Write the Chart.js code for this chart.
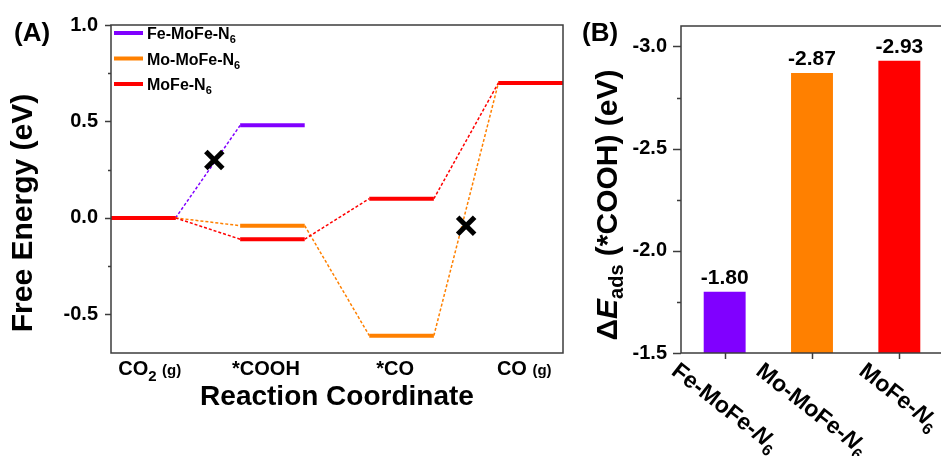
<!DOCTYPE html>
<html>
<head>
<meta charset="utf-8">
<script src="https://cdn.jsdelivr.net/npm/chart.js@4.4.1/dist/chart.umd.min.js"></script>
<style>
  html, body { margin: 0; padding: 0; width: 941px; height: 456px; overflow: hidden; background: #fff; }
  canvas { position: absolute; top: 0; }
  #energy { left: 0; }
  #adsorption { left: 560px; }
</style>
</head>
<body>
<canvas id="energy" width="580" height="456"></canvas>
<canvas id="adsorption" width="390" height="456"></canvas>
<script>
// (A) free-energy levels along CO2 -> *COOH -> *CO -> CO
const stages = ['CO2 (g)', '*COOH', '*CO', 'CO (g)'];
const stageLabelAt = [0.6, 2.4, 4.4, 6.4];
const feMoFeN6 = [0.00, 0.48];
const moMoFeN6 = [0.00, -0.04, -0.61, 0.70];
const moFeN6 = [0.00, -0.11, 0.10, 0.70];
const blockedSteps = [{x: 1.6, y: 0.30}, {x: 5.5, y: -0.04}];
const energyTicks = [-0.5, -0.25, 0, 0.25, 0.5, 0.75, 1.0];

// (B) *COOH adsorption energies
const catalysts = ['Fe-MoFe-N6', 'Mo-MoFe-N6', 'MoFe-N6'];
const adsorptionEnergy = [-1.80, -2.87, -2.93];
const adsorptionTicks = [-3.0, -2.75, -2.5, -2.25, -2.0, -1.75, -1.5];

const PURPLE = '#8000ff', ORANGE = '#ff8000', RED = '#ff0000';
const FAMILY = "'Liberation Sans', Arial, sans-serif";
const FRAME = '#3c3c3c';

// every level takes one x unit, the connector to the next level one more
function levelPoints(levels) {
  const pts = [];
  levels.forEach((v, i) => { pts.push({x: 2 * i, y: v}, {x: 2 * i + 1, y: v}); });
  return pts;
}

function isMajor(v) { return Math.abs(v * 2 - Math.round(v * 2)) < 1e-9; }

// "MoFe-N6" / "CO2 (g)" -> text runs with subscripts and a small "(g)"
function toRuns(label, size, sub, italicN) {
  const re = italicN ? /(N(?=\d)|\d+|\(g\))/ : /(\d+|\(g\))/;
  return label.split(re).filter(Boolean).map(part => {
    if (/^\d+$/.test(part)) return {text: part, size: sub, dy: Math.round(sub * 0.4)};
    if (part === '(g)') return {text: part, size: sub, dy: 0};
    if (italicN && part === 'N') return {text: part, size, dy: 0, italic: true};
    return {text: part, size, dy: 0};
  });
}

function runFont(r) { return (r.italic ? 'italic ' : '') + 'bold ' + r.size + 'px ' + FAMILY; }

function runsWidth(ctx, runs) {
  return runs.reduce((w, r) => { ctx.font = runFont(r); return w + ctx.measureText(r.text).width; }, 0);
}

function drawRuns(ctx, runs, x, y, align) {
  let cx = align === 'center' ? x - runsWidth(ctx, runs) / 2 : x;
  ctx.textAlign = 'left';
  ctx.textBaseline = 'alphabetic';
  runs.forEach(r => {
    ctx.font = runFont(r);
    ctx.fillText(r.text, cx, y + r.dy);
    cx += ctx.measureText(r.text).width;
  });
}

function yTickMarks(ctx, scale, major, minor) {
  ctx.beginPath();
  scale.ticks.forEach(t => {
    const y = Math.round(scale.getPixelForValue(t.value)) + 0.5;
    ctx.moveTo(scale.right, y);
    ctx.lineTo(scale.right - (isMajor(t.value) ? major : minor), y);
  });
  ctx.stroke();
}

function levelDataset(label, levels, color, order) {
  return {
    type: 'line', label, order, data: levelPoints(levels),
    borderColor: color, backgroundColor: color, borderWidth: 4, borderDash: [], pointRadius: 0,
    segment: {
      borderWidth: c => (c.p0DataIndex % 2 ? 1.5 : 4),
      borderDash: c => (c.p0DataIndex % 2 ? [3, 2] : [])
    }
  };
}

const energyDecor = {
  id: 'energyDecor',
  afterDraw(chart) {
    const ctx = chart.ctx;
    const a = chart.chartArea;
    const xs = chart.scales.x, ys = chart.scales.y;
    ctx.save();
    ctx.strokeStyle = FRAME;
    ctx.lineWidth = 1.5;
    ctx.strokeRect(a.left, a.top, a.right - a.left, a.bottom - a.top);
    yTickMarks(ctx, ys, 6, 3);

    ctx.fillStyle = '#000';
    stages.forEach((s, i) => {
      drawRuns(ctx, toRuns(s, 20, 15, false), xs.getPixelForValue(stageLabelAt[i]), 375, 'center');
    });
    drawRuns(ctx, [{text: 'Reaction Coordinate', size: 28, dy: 0}], (a.left + a.right) / 2, 405, 'center');

    ctx.save();
    ctx.translate(32, 213);
    ctx.rotate(-Math.PI / 2);
    drawRuns(ctx, [{text: 'Free Energy (eV)', size: 30, dy: 0}], 0, 0, 'center');
    ctx.restore();

    // legend in the top-left corner of the plot
    chart.data.datasets.slice(0, 3).forEach((ds, i) => {
      const y = 33 + i * 25.5;
      ctx.strokeStyle = ds.borderColor;
      ctx.lineWidth = 4;
      ctx.beginPath();
      ctx.moveTo(a.left + 3, y);
      ctx.lineTo(a.left + 32, y);
      ctx.stroke();
      ctx.fillStyle = '#000';
      drawRuns(ctx, toRuns(ds.label, 16, 11, false), a.left + 36, y + 6, 'left');
    });

    drawRuns(ctx, [{text: '(A)', size: 26, dy: 0}], 14, 41, 'left');
    ctx.restore();
  }
};

new Chart(document.getElementById('energy'), {
  data: {
    datasets: [
      levelDataset('Fe-MoFe-N6', feMoFeN6, PURPLE, 2),
      levelDataset('Mo-MoFe-N6', moMoFeN6, ORANGE, 1),
      levelDataset('MoFe-N6', moFeN6, RED, 0),
      {
        type: 'scatter', label: 'blocked', order: -1, data: blockedSteps,
        pointStyle: 'crossRot', pointRadius: 12, borderWidth: 5, borderColor: '#000'
      }
    ]
  },
  options: {
    responsive: false,
    animation: false,
    layout: {padding: {top: 21, right: 9, bottom: 103, left: 0}},
    plugins: {legend: {display: false}, tooltip: {enabled: false}},
    scales: {
      x: {type: 'linear', min: 0, max: 7, display: false},
      y: {
        min: -0.7, max: 1.0,
        afterBuildTicks: s => { s.ticks = energyTicks.map(value => ({value})); },
        afterFit: s => { s.width = 111; },
        grid: {display: false, drawTicks: false},
        border: {display: false},
        ticks: {
          padding: 13, color: '#000',
          font: {family: FAMILY, size: 20, weight: 'bold'},
          callback: v => (isMajor(v) ? v.toFixed(1) : '')
        }
      }
    }
  },
  plugins: [energyDecor]
});

const adsorptionDecor = {
  id: 'adsorptionDecor',
  afterDraw(chart) {
    const ctx = chart.ctx;
    const a = chart.chartArea;
    const xs = chart.scales.x, ys = chart.scales.y;
    ctx.save();
    ctx.strokeStyle = FRAME;
    ctx.lineWidth = 1.5;
    ctx.strokeRect(a.left, a.top, a.right - a.left, a.bottom - a.top);
    yTickMarks(ctx, ys, 8, 4);

    // category ticks and slanted names
    const angle = 38 * Math.PI / 180;
    ctx.fillStyle = '#000';
    catalysts.forEach((c, i) => {
      const x = Math.round(xs.getPixelForValue(i)) + 0.5;
      ctx.beginPath();
      ctx.moveTo(x, a.bottom);
      ctx.lineTo(x, a.bottom + 6);
      ctx.stroke();
      const runs = toRuns(c, 23, 16, true);
      const w = runsWidth(ctx, runs);
      const cap = 16;
      const boxH = w * Math.sin(angle) + cap * Math.cos(angle);
      ctx.save();
      ctx.translate(x, a.bottom + 8 + boxH / 2);
      ctx.rotate(angle);
      drawRuns(ctx, runs, 0, cap / 2, 'center');
      ctx.restore();
    });

    // value labels above bars
    chart.getDatasetMeta(0).data.forEach((bar, i) => {
      drawRuns(ctx, [{text: adsorptionEnergy[i].toFixed(2), size: 21, dy: 0}], bar.x, bar.y - 8, 'center');
    });

    ctx.save();
    ctx.translate(57, 205);
    ctx.rotate(-Math.PI / 2);
    drawRuns(ctx, [
      {text: 'Δ', size: 30, dy: 0},
      {text: 'E', size: 30, dy: 0, italic: true},
      {text: 'ads', size: 20, dy: 6},
      {text: ' (*COOH) (eV)', size: 30, dy: 0}
    ], 0, 0, 'center');
    ctx.restore();

    drawRuns(ctx, [{text: '(B)', size: 26, dy: 0}], 22, 41, 'left');
    ctx.restore();
  }
};

new Chart(document.getElementById('adsorption'), {
  type: 'bar',
  data: {
    labels: catalysts,
    datasets: [{
      data: adsorptionEnergy,
      backgroundColor: [PURPLE, ORANGE, RED],
      base: -1.5,
      barPercentage: 0.48,
      categoryPercentage: 1
    }]
  },
  options: {
    responsive: false,
    animation: false,
    layout: {padding: {top: 21, right: 7, bottom: 103, left: 0}},
    plugins: {legend: {display: false}, tooltip: {enabled: false}},
    scales: {
      x: {display: false},
      y: {
        reverse: true, min: -3.1, max: -1.5,
        afterBuildTicks: s => { s.ticks = adsorptionTicks.map(value => ({value})); },
        afterFit: s => { s.width = 121; },
        grid: {display: false, drawTicks: false},
        border: {display: false},
        ticks: {
          padding: 14, color: '#000',
          font: {family: FAMILY, size: 20, weight: 'bold'},
          callback: v => (isMajor(v) ? v.toFixed(1) : '')
        }
      }
    }
  },
  plugins: [adsorptionDecor]
});
</script>
</body>
</html>
